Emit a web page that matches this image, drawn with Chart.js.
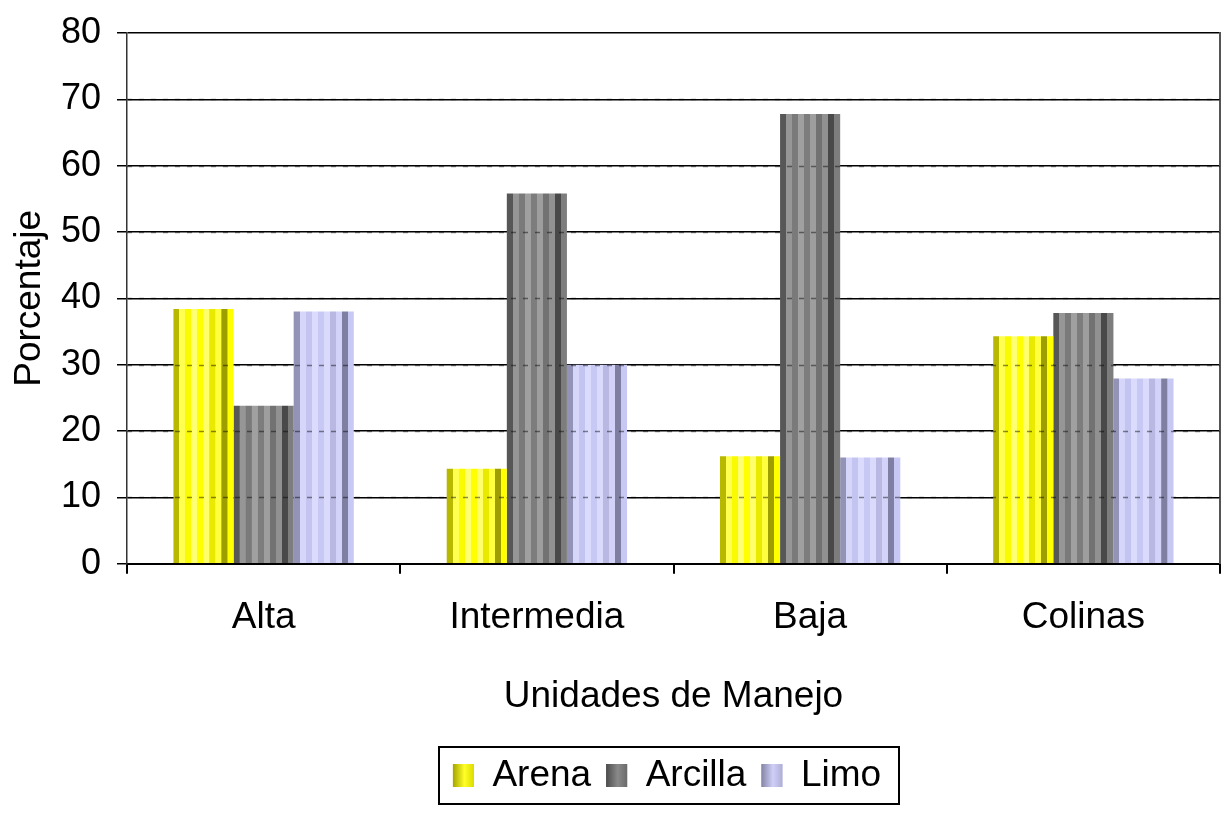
<!DOCTYPE html>
<html>
<head>
<meta charset="utf-8">
<script src="https://cdn.jsdelivr.net/npm/chart.js"></script>
<style>
  html, body { margin: 0; padding: 0; background: #fff; }
  #wrap { width: 1225px; height: 814px; }
</style>
</head>
<body>
<div id="wrap"><canvas id="chart" width="1225" height="814"></canvas></div>
<script>
// Data
const categories = ['Alta', 'Intermedia', 'Baja', 'Colinas'];
const arena = [38.4, 14.3, 16.2, 34.3];
const arcilla = [23.8, 55.8, 67.8, 37.8];
const limo = [38.0, 30.0, 16.0, 27.9];
const seriesNames = ['Arena', 'Arcilla', 'Limo'];
const yMin = 0, yMax = 80, yStep = 10;

// Bar shading (edge colour, middle colour, highlight)
const palettes = [
    { edge: [115, 115, 0], mid: [255, 255, 0], hi: [255, 255, 130] },
    { edge: [50, 50, 50], mid: [125, 125, 125], hi: [165, 165, 165] },
    { edge: [95, 95, 125], mid: [200, 200, 245], hi: [222, 222, 255] }
];
const legendColors = ['#d8d800', '#6a6a6a', '#b4b4e4'];
const FONT = "'Liberation Sans', Arial, sans-serif";
const CAT_PCT = 0.66;
const LEGEND_SHIFT = 57;
const SWATCH_W = 21, SWATCH_H = 23;

function mix(a, b, s) {
    const c = a.map((v, i) => Math.round(v + (b[i] - v) * s));
    return 'rgb(' + c.join(',') + ')';
}

// vertical stripes on a cylinder-like shade
function stripeGradient(g2d, left, width, pal) {
    const g = g2d.createLinearGradient(left, 0, left + width, 0);
    const n = 10;
    for (let k = 0; k < n; k++) {
        const t0 = k / n, t1 = (k + 1) / n;
        const tm = (t0 + t1) / 2;
        const s = Math.max(0, Math.cos((tm - 0.42) * Math.PI / 1.05));
        let col;
        if (k % 2 === 1) col = mix(pal.mid, pal.hi, Math.min(1, s * 0.9));
        else col = mix(pal.edge, pal.mid, Math.min(1, s * 1.1));
        g.addColorStop(t0, col);
        g.addColorStop(Math.max(t0, t1 - 0.002), col);
    }
    return g;
}

function barFill(dsIndex) {
    return function(c) {
        const chart = c.chart;
        const xs = chart.scales.x;
        if (c.type !== 'data' || !xs || !chart.chartArea) return legendColors[dsIndex];
        const catW = xs.width / categories.length;
        const groupW = catW * CAT_PCT;
        const barW = groupW / 3;
        const left = xs.getPixelForValue(c.dataIndex) - groupW / 2 + dsIndex * barW;
        return stripeGradient(chart.ctx, left, barW, palettes[dsIndex]);
    };
}

// dashed grid lines seen through the bars
const overlayPlugin = {
    id: 'overlay',
    afterDatasetsDraw(chart) {
        const ys = chart.scales.y;
        const area = chart.chartArea;
        const ctx = chart.ctx;
        ctx.save();
        ctx.strokeStyle = 'rgba(0,0,0,0.45)';
        ctx.lineWidth = 1.5;
        ctx.setLineDash([5, 7]);
        for (let v = yMin + yStep; v < yMax; v += yStep) {
            const y = Math.round(ys.getPixelForValue(v)) + 0.5;
            ctx.beginPath();
            ctx.moveTo(area.left, y);
            ctx.lineTo(area.right, y);
            ctx.stroke();
        }
        ctx.restore();
    }
};

// legend sits under the plot area centre, with a frame round it
const legendBoxPlugin = {
    id: 'legendBox',
    afterLayout(chart) {
        if (!chart.legend) return;
        chart.legend.left += LEGEND_SHIFT;
        chart.legend.right += LEGEND_SHIFT;
    },
    afterDraw(chart) {
        const boxes = chart.legend && chart.legend.legendHitBoxes;
        if (!boxes || !boxes.length) return;
        const left = Math.min(...boxes.map(b => b.left));
        const right = Math.max(...boxes.map(b => b.left + b.width));
        const top = Math.min(...boxes.map(b => b.top));
        const bottom = Math.max(...boxes.map(b => b.top + b.height));
        const ctx = chart.ctx;
        ctx.save();
        // shaded swatches like the bars
        boxes.forEach((b, i) => {
            const pal = palettes[i];
            const sy = b.top + (b.height - SWATCH_H) / 2;
            const g = ctx.createLinearGradient(b.left, 0, b.left + SWATCH_W, 0);
            g.addColorStop(0, mix(pal.edge, pal.mid, 0.35));
            g.addColorStop(0.55, mix(pal.mid, pal.hi, 0.3));
            g.addColorStop(1, mix(pal.edge, pal.mid, 0.75));
            ctx.fillStyle = g;
            ctx.fillRect(b.left, sy, SWATCH_W, SWATCH_H);
        });
        ctx.strokeStyle = '#000';
        ctx.lineWidth = 2;
        ctx.strokeRect(Math.round(left - 14), Math.round(top - 10), Math.round(right - left + 32), Math.round(bottom - top + 20));
        ctx.restore();
    }
};

document.addEventListener('DOMContentLoaded', function() {
    const chart = new Chart(document.getElementById('chart').getContext('2d'), {
        type: 'bar',
        data: {
            labels: categories,
            datasets: [
                { label: seriesNames[0], data: arena, backgroundColor: barFill(0) },
                { label: seriesNames[1], data: arcilla, backgroundColor: barFill(1) },
                { label: seriesNames[2], data: limo, backgroundColor: barFill(2) }
            ]
        },
        options: {
            responsive: false,
            animation: false,
            devicePixelRatio: 1,
            layout: { padding: { top: 33, right: 5, bottom: 10, left: 0 } },
            datasets: {
                bar: { barPercentage: 1, categoryPercentage: CAT_PCT, borderWidth: 0 }
            },
            plugins: {
                tooltip: { enabled: false },
                legend: {
                    position: 'bottom',
                    labels: {
                        font: { family: FONT, size: 37 },
                        color: '#000',
                        boxWidth: SWATCH_W,
                        boxHeight: SWATCH_H,
                        padding: 15,
                        generateLabels(ch) {
                            const items = Chart.defaults.plugins.legend.labels.generateLabels(ch);
                            items.forEach((it, i) => {
                                it.fillStyle = legendColors[i];
                                it.strokeStyle = legendColors[i];
                                it.lineWidth = 0;
                            });
                            return items;
                        }
                    }
                }
            },
            scales: {
                x: {
                    grid: {
                        offset: true,
                        drawOnChartArea: false,
                        drawTicks: true,
                        tickLength: 10,
                        color: '#000',
                        lineWidth: 2
                    },
                    border: { display: true, color: '#000', width: 2 },
                    ticks: {
                        font: { family: FONT, size: 37 },
                        color: '#000',
                        padding: 21.5
                    },
                    title: {
                        display: true,
                        text: 'Unidades de Manejo',
                        font: { family: FONT, size: 37 },
                        color: '#000',
                        padding: { top: 13.5, bottom: 23 }
                    }
                },
                y: {
                    min: yMin,
                    max: yMax,
                    afterFit(scale) {
                        scale.width = 127;
                        scale.paddingTop = 0;
                        scale.paddingBottom = 0;
                    },
                    grid: {
                        color: '#000',
                        lineWidth: 1.5,
                        tickLength: 10,
                        drawTicks: true
                    },
                    border: { display: true, color: '#333', width: 1.5 },
                    ticks: {
                        stepSize: yStep,
                        font: { family: FONT, size: 36 },
                        color: '#000',
                        padding: 16
                    },
                    title: {
                        display: true,
                        text: 'Porcentaje',
                        font: { family: FONT, size: 37 },
                        color: '#000',
                        padding: { top: 8, bottom: 0 }
                    }
                },
                y2: {
                    position: 'right',
                    grid: { display: false, drawTicks: false },
                    ticks: { display: false },
                    border: { display: true, color: '#555', width: 2 }
                }
            }
        },
        plugins: [overlayPlugin, legendBoxPlugin]
    });
});
</script>
</body>
</html>
